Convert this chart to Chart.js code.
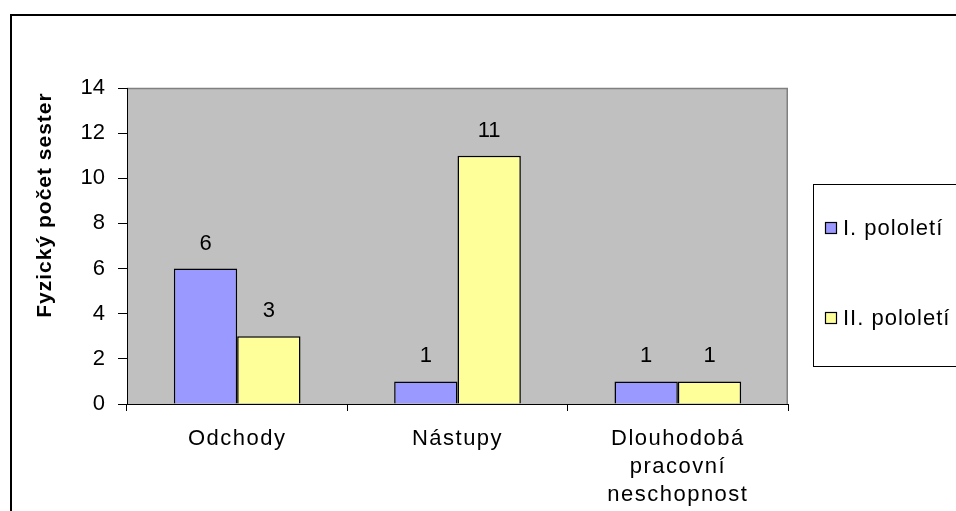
<!DOCTYPE html>
<html>
<head>
<meta charset="utf-8">
<script src="https://cdn.jsdelivr.net/npm/chart.js@4.4.1/dist/chart.umd.min.js"></script>
<style>
  html, body { margin: 0; padding: 0; background: #fff; }
  #wrap { width: 956px; height: 511px; position: relative; }
</style>
</head>
<body>
<div id="wrap"><canvas id="c" width="956" height="511"></canvas></div>
<script>
// Categories and series
const categories = ["Odchody", "Nástupy", ["Dlouhodobá", "pracovní", "neschopnost"]];
const seriesNames = ["I. pololetí", "II. pololetí"];
const firstHalf = [6, 1, 1];
const secondHalf = [3, 11, 1];
const yTicks = [0, 2, 4, 6, 8, 10, 12, 14];
const yTitle = "Fyzický počet sester";

const FONT = "'Liberation Sans', Arial, sans-serif";

// Frame, plot background, value labels, axis title and legend box
const decor = {
  id: 'decor',
  afterLayout(chart) {
    // wider letter spacing for the category labels
    const xs = chart.scales.x;
    if (!xs._spaced) {
      const orig = xs.drawLabels.bind(xs);
      xs.drawLabels = function (area) {
        const c = this.ctx;
        c.save();
        c.letterSpacing = '1.5px';
        orig(area);
        c.restore();
      };
      xs._spaced = true;
    }
  },
  beforeDraw(chart) {
    const { ctx, chartArea: a } = chart;
    ctx.save();
    ctx.fillStyle = '#fff';
    ctx.fillRect(0, 0, chart.width, chart.height);
    ctx.fillStyle = '#C0C0C0';
    ctx.fillRect(a.left, a.top, a.right - a.left, a.bottom - a.top);
    ctx.strokeStyle = '#808080';
    ctx.lineWidth = 1.5;
    ctx.beginPath();
    ctx.moveTo(a.left, a.top + 0.5);
    ctx.lineTo(a.right - 0.75, a.top + 0.5);
    ctx.lineTo(a.right - 0.75, a.bottom);
    ctx.stroke();
    ctx.restore();
  },
  afterDraw(chart) {
    const { ctx } = chart;
    ctx.save();
    // outer frame
    ctx.strokeStyle = '#000';
    ctx.lineWidth = 2;
    ctx.strokeRect(11, 15, 960, 520);

    // value labels
    ctx.fillStyle = '#000';
    ctx.font = `22px ${FONT}`;
    ctx.textAlign = 'center';
    ctx.textBaseline = 'middle';
    chart.data.datasets.forEach((ds, i) => {
      chart.getDatasetMeta(i).data.forEach((bar, j) => {
        ctx.fillText(String(ds.data[j]), bar.x, bar.y - 25);
      });
    });

    // y axis title
    ctx.save();
    ctx.translate(45, 205);
    ctx.rotate(-Math.PI / 2);
    ctx.font = `bold 21px ${FONT}`;
    ctx.letterSpacing = '1px';
    ctx.fillText(yTitle, 0, 0);
    ctx.restore();

    // legend
    const lx = 813, ly = 184, lw = 160, lh = 182;
    ctx.fillStyle = '#fff';
    ctx.fillRect(lx, ly, lw, lh);
    ctx.strokeStyle = '#000';
    ctx.lineWidth = 1;
    ctx.strokeRect(lx + 0.5, ly + 0.5, lw, lh);
    const rows = [228, 318];
    chart.data.datasets.forEach((ds, i) => {
      const cy = rows[i];
      ctx.fillStyle = ds.backgroundColor;
      ctx.fillRect(825, cy - 5, 12, 11);
      ctx.strokeStyle = '#000';
      ctx.lineWidth = 1.2;
      ctx.strokeRect(825.5, cy - 5.5, 11, 11);
      ctx.fillStyle = '#000';
      ctx.textAlign = 'left';
      ctx.font = `22px ${FONT}`;
      ctx.letterSpacing = '1px';
      ctx.fillText(ds.label, 843, cy + 1);
      ctx.letterSpacing = '0px';
    });
    ctx.restore();
  }
};

new Chart(document.getElementById('c'), {
  type: 'bar',
  data: {
    labels: categories,
    datasets: [
      { label: seriesNames[0], data: firstHalf, backgroundColor: '#9999FF', borderColor: '#000', borderWidth: 1.5 },
      { label: seriesNames[1], data: secondHalf, backgroundColor: '#FFFF99', borderColor: '#000', borderWidth: 1.5 }
    ]
  },
  options: {
    responsive: false,
    animation: false,
    events: [],
    layout: { padding: { left: 10, top: 88, right: 168, bottom: 0 } },
    datasets: { bar: { categoryPercentage: 0.575, barPercentage: 1 } },
    plugins: { legend: { display: false }, tooltip: { enabled: false } },
    scales: {
      x: {
        grid: { display: true, drawOnChartArea: false, drawTicks: true, tickLength: 7, color: '#000', offset: true },
        border: { display: true, color: '#000', width: 1 },
        ticks: { color: '#000', font: { family: FONT, size: 22, lineHeight: 1.28 }, padding: 14, maxRotation: 0, autoSkip: false },
        afterFit(s) { s.height = 107; }
      },
      y: {
        min: 0, max: 14,
        afterBuildTicks(s) { s.ticks = yTicks.map(v => ({ value: v })); },
        grid: { display: true, drawOnChartArea: false, drawTicks: true, tickLength: 9, color: '#000' },
        border: { display: true, color: '#000', width: 1 },
        ticks: { color: '#000', font: { family: FONT, size: 22 }, padding: 13 },
        afterFit(s) { s.width = 117; }
      }
    }
  },
  plugins: [decor]
});
</script>
</body>
</html>
